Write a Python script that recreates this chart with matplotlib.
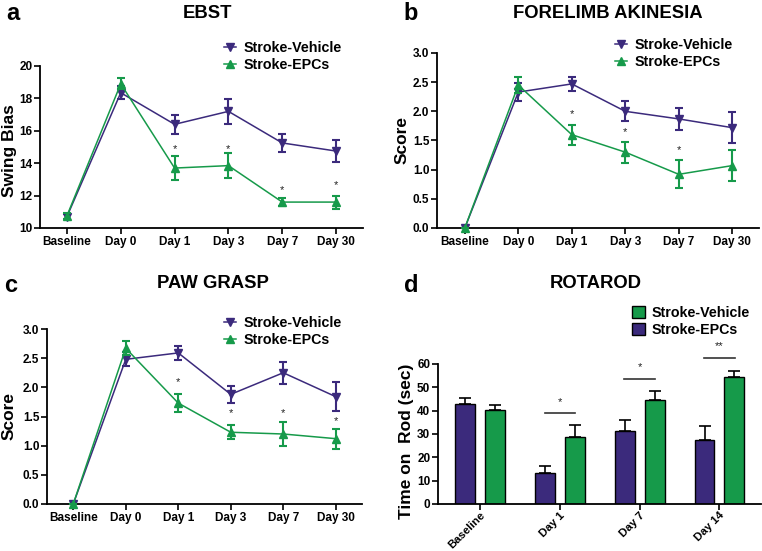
import matplotlib.pyplot as plt
from matplotlib.lines import Line2D
from matplotlib.patches import Patch
import numpy as np

plt.rcParams['font.family'] = ['Liberation Sans', 'DejaVu Sans']
plt.rcParams['font.weight'] = 'bold'

PURPLE = '#3b2a7c'
GREEN = '#169a4a'

days = ['Baseline', 'Day 0', 'Day 1', 'Day 3', 'Day 7', 'Day 30']

# a - EBST
ebst_veh = [10.7, 18.35, 16.4, 17.2, 15.25, 14.75]
ebst_veh_err = [0.15, 0.4, 0.6, 0.75, 0.55, 0.7]
ebst_epc = [10.75, 18.9, 13.7, 13.85, 11.6, 11.6]
ebst_epc_err = [0.2, 0.35, 0.75, 0.75, 0.25, 0.4]
ebst_star_idx = [2, 3, 4, 5]
ebst_star_y = [14.9, 14.9, 12.35, 12.65]

# b - forelimb akinesia
fa_veh = [0.0, 2.33, 2.47, 2.0, 1.87, 1.72]
fa_veh_err = [0.0, 0.15, 0.12, 0.17, 0.19, 0.26]
fa_epc = [0.0, 2.45, 1.6, 1.3, 0.92, 1.07]
fa_epc_err = [0.0, 0.14, 0.17, 0.18, 0.24, 0.27]
fa_star_idx = [2, 3, 4]
fa_star_y = [1.96, 1.65, 1.33]

# c - paw grasp
pg_veh = [0.0, 2.48, 2.59, 1.88, 2.25, 1.84]
pg_veh_err = [0.0, 0.12, 0.12, 0.15, 0.19, 0.25]
pg_epc = [0.0, 2.67, 1.73, 1.23, 1.2, 1.12]
pg_epc_err = [0.0, 0.12, 0.16, 0.12, 0.2, 0.17]
pg_star_idx = [2, 3, 4, 5]
pg_star_y = [2.09, 1.56, 1.56, 1.43]

# d - rotarod
rot_days = ['Baseline', 'Day 1', 'Day 7', 'Day 14']
rot_purple = [43.0, 13.2, 31.3, 27.6]
rot_purple_err = [2.5, 3.2, 4.8, 5.7]
rot_green = [40.3, 28.7, 44.6, 54.4]
rot_green_err = [2.3, 5.0, 4.0, 2.4]
rot_sig_line = [38.9, 53.7, 62.7]
rot_sig_text = ['*', '*', '**']

W, H = 762, 551
fig = plt.figure(figsize=(W / 100, H / 100), dpi=100)


def rect(l, t, r, b):
    return [l / W, 1 - b / H, (r - l) / W, (b - t) / H]


def style(ax):
    for s in ['top', 'right']:
        ax.spines[s].set_visible(False)
    for s in ['left', 'bottom']:
        ax.spines[s].set_linewidth(1.3)
    ax.tick_params(direction='out', length=4, width=1.2, labelsize=8.5, pad=1.5)
    for lbl in ax.get_xticklabels() + ax.get_yticklabels():
        lbl.set_fontweight('bold')


def put_legend(ax, handles, labels, left_px, top_px, **kw):
    leg = ax.legend(handles, labels, loc='upper left',
                    bbox_to_anchor=(left_px / W, 1 - top_px / H),
                    bbox_transform=fig.transFigure, frameon=False,
                    fontsize=10.3, handletextpad=0.5, labelspacing=0.2,
                    borderpad=0, borderaxespad=0, **kw)
    for t in leg.get_texts():
        t.set_fontweight('bold')
    return leg


def line_panel(ax, veh, veh_err, epc, epc_err, star_idx, star_y, ylim, yticks, fmt):
    x = np.arange(len(days))
    ax.errorbar(x, veh, yerr=veh_err, color=PURPLE, marker='v', ms=5.5, lw=1.1,
                elinewidth=1.5, capsize=3.2, capthick=1.5, clip_on=False, zorder=3)
    ax.errorbar(x, epc, yerr=epc_err, color=GREEN, marker='^', ms=5.5, lw=1.1,
                elinewidth=1.5, capsize=3.2, capthick=1.5, clip_on=False, zorder=4)
    for i, y in zip(star_idx, star_y):
        ax.text(i, y, '*', ha='center', va='center', fontsize=8,
                fontweight='normal', color='#222222')
    ax.set_xticks(x)
    ax.set_xticklabels(days)
    ax.set_xlim(-0.5, 5.5)
    ax.set_ylim(*ylim)
    ax.set_yticks(yticks)
    ax.set_yticklabels([fmt.format(v) for v in yticks])
    style(ax)


line_handles = [Line2D([], [], color=PURPLE, marker='v', ms=5.5, lw=1.1),
                Line2D([], [], color=GREEN, marker='^', ms=5.5, lw=1.1)]
line_labels = ['Stroke-Vehicle', 'Stroke-EPCs']

# panel a
ax_a = fig.add_axes(rect(40, 66, 363, 228))
line_panel(ax_a, ebst_veh, ebst_veh_err, ebst_epc, ebst_epc_err,
           ebst_star_idx, ebst_star_y, (10, 20), [10, 12, 14, 16, 18, 20], '{:.0f}')
ax_a.set_ylabel('Swing Bias', fontsize=12.5, fontweight='bold')
ax_a.yaxis.set_label_coords(-23 / 323, 0.48)
put_legend(ax_a, line_handles, line_labels, 224, 41, handlelength=0.85)

# panel b
ax_b = fig.add_axes(rect(437, 53, 759, 228))
line_panel(ax_b, fa_veh, fa_veh_err, fa_epc, fa_epc_err,
           fa_star_idx, fa_star_y, (0, 3), [0, 0.5, 1, 1.5, 2, 2.5, 3], '{:.1f}')
ax_b.set_xlim(-0.52, 5.5)
ax_b.set_ylabel('Score', fontsize=12.5, fontweight='bold')
ax_b.yaxis.set_label_coords(-27 / 322, 0.5)
put_legend(ax_b, line_handles, line_labels, 615, 38, handlelength=0.85)

# panel c
ax_c = fig.add_axes(rect(47, 329, 362, 504))
line_panel(ax_c, pg_veh, pg_veh_err, pg_epc, pg_epc_err,
           pg_star_idx, pg_star_y, (0, 3), [0, 0.5, 1, 1.5, 2, 2.5, 3], '{:.1f}')
ax_c.set_ylabel('Score', fontsize=12.5, fontweight='bold')
ax_c.yaxis.set_label_coords(-30 / 315, 0.5)
put_legend(ax_c, line_handles, line_labels, 224, 316, handlelength=0.85)

# panel d
ax_d = fig.add_axes(rect(438, 364, 761, 504))
xg = np.arange(len(rot_days))
bw = 0.25
off = 0.1875
ax_d.bar(xg - off, rot_purple, bw, color=PURPLE, edgecolor='black', linewidth=1.0, zorder=2)
ax_d.bar(xg + off, rot_green, bw, color=GREEN, edgecolor='black', linewidth=1.0, zorder=2)
ax_d.errorbar(xg - off, rot_purple, yerr=[np.zeros(4), rot_purple_err], fmt='none',
              ecolor='black', elinewidth=1.2, capsize=4, capthick=1.2, zorder=1)
ax_d.errorbar(xg + off, rot_green, yerr=[np.zeros(4), rot_green_err], fmt='none',
              ecolor='black', elinewidth=1.2, capsize=4, capthick=1.2, zorder=1)
for i, (yl, txt) in enumerate(zip(rot_sig_line, rot_sig_text)):
    g = i + 1
    ax_d.plot([g - 0.19, g + 0.19], [yl, yl], color='#333333', lw=1.2, clip_on=False)
    ax_d.text(g, yl + 4.8, txt, ha='center', va='center', fontsize=8,
              fontweight='normal', color='#222222', clip_on=False)
ax_d.set_xlim(-0.525, 3.52)
ax_d.set_ylim(0, 60)
ax_d.set_yticks([0, 10, 20, 30, 40, 50, 60])
ax_d.set_xticks(xg)
ax_d.set_xticklabels(rot_days, rotation=45, ha='right', rotation_mode='anchor')
style(ax_d)
ax_d.tick_params(axis='x', labelsize=8.2, pad=0.5)
ax_d.set_ylabel('Time on  Rod (sec)', fontsize=12.5, fontweight='bold')
ax_d.yaxis.set_label_coords(-24 / 323, 0.45)
bar_handles = [Patch(facecolor=GREEN, edgecolor='black', linewidth=1.0),
               Patch(facecolor=PURPLE, edgecolor='black', linewidth=1.0)]
put_legend(ax_d, bar_handles, ['Stroke-Vehicle', 'Stroke-EPCs'], 632, 306,
           handlelength=0.9, handleheight=0.9)

# titles and panel letters
fig.text(207 / W, 1 - 14 / H, 'EBST', ha='center', va='center', fontsize=13.3, fontweight='bold')
fig.text(608 / W, 1 - 14 / H, 'FORELIMB AKINESIA', ha='center', va='center', fontsize=13.3, fontweight='bold')
fig.text(213 / W, 1 - 284 / H, 'PAW GRASP', ha='center', va='center', fontsize=13.3, fontweight='bold')
fig.text(596 / W, 1 - 284 / H, 'ROTAROD', ha='center', va='center', fontsize=13.3, fontweight='bold')
fig.text(6 / W, 1 - 13 / H, 'a', ha='left', va='center', fontsize=17, fontweight='bold')
fig.text(403 / W, 1 - 13 / H, 'b', ha='left', va='center', fontsize=17, fontweight='bold')
fig.text(4 / W, 1 - 286 / H, 'c', ha='left', va='center', fontsize=17, fontweight='bold')
fig.text(404 / W, 1 - 286 / H, 'd', ha='left', va='center', fontsize=17, fontweight='bold')

fig.savefig('out.png', dpi=100)
